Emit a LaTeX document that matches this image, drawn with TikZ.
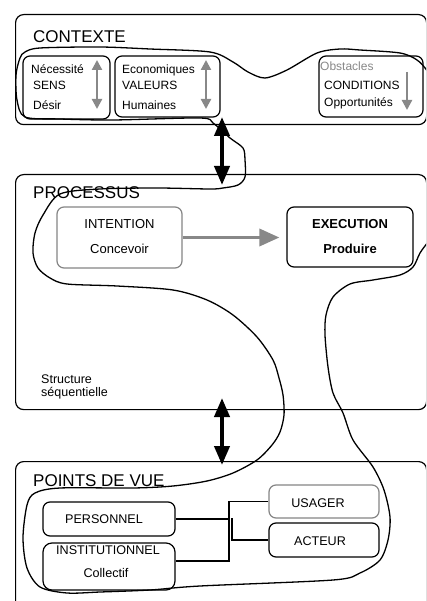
\documentclass[tikz,border=0pt]{standalone}
\usepackage{fontspec}
\setmainfont{Liberation Sans}
\usetikzlibrary{arrows.meta}
\definecolor{arrgray}{HTML}{888888}
\definecolor{boxgray}{HTML}{858585}
\tikzset{
  frame/.style={draw, line width=1.2pt, rounded corners=8pt, inner sep=0pt, anchor=north west, minimum width=411pt},
  ibox/.style={draw, line width=1.2pt, rounded corners=7pt, inner sep=0pt},
  gbox/.style={ibox, draw=boxgray},
  ttl/.style={inner sep=0pt, anchor=base west, font=\fontsize{17}{17}\selectfont},
  sm/.style={inner sep=0pt, anchor=base west, font=\fontsize{12}{12}\selectfont},
  md/.style={inner sep=0pt, anchor=base, font=\fontsize{12.6}{12.6}\selectfont},
  pr/.style={inner sep=0pt, anchor=base, font=\fontsize{13}{13}\selectfont},
  bigarrow/.style={line width=4pt, {Triangle[width=15pt,length=19pt]}-{Triangle[width=15pt,length=19pt]}},
  grayarrow/.style={draw=arrgray, line width=3.5pt, -{Triangle[width=17pt,length=20pt]}, arrgray},
  smallarrow/.style={draw=arrgray, line width=2.2pt, arrgray},
  conn/.style={line width=1.2pt},
  loopline/.style={line width=1.3pt, line join=round}
}
\begin{document}
\begin{tikzpicture}[x=1pt,y=-1pt]
\useasboundingbox (0,0) rectangle (426,601);
\clip (0,0) rectangle (426,601);
\fill[white] (0,0) rectangle (426,601);

% frames
\node[frame, minimum height=110pt] (ctx) at (15,14) {};
\node[frame, minimum height=235pt] (proc) at (15,174) {};
\node[frame, minimum height=154pt] (pdv) at (15,461) {};

\node[ttl] (tctx) at (33,43) {CONTEXTE};
\node[ttl] (tproc) at (33,199) {PROCESSUS};
\node[ttl] (tpdv) at (33,486) {POINTS DE VUE};

% context boxes
\node[ibox, minimum width=87pt, minimum height=63pt] (boxA) at (66.5,87.5) {};
\node[ibox, minimum width=105pt, minimum height=61pt] (boxB) at (167.5,86.5) {};
\node[ibox, minimum width=104pt, minimum height=61pt] (boxC) at (371,86.5) {};

\node[sm] (nec) at (31,74) {Nécessité};
\node[sm] (sens) at (33,90) {SENS};
\node[sm] (des) at (33,110) {Désir};
\node[sm] (eco) at (122,74) {Economiques};
\node[sm] (val) at (122,90) {VALEURS};
\node[sm] (hum) at (122,110) {Humaines};
\node[sm, text=arrgray] (obs) at (320,71) {Obstacles};
\node[sm] (cond) at (324,90) {CONDITIONS};
\node[sm] (opp) at (324,107) {Opportunités};

\coordinate (gA1) at (97,60);  \coordinate (gA2) at (97,109);
\coordinate (gB1) at (206,60); \coordinate (gB2) at (206,109);
\coordinate (gC1) at (407,72); \coordinate (gC2) at (407,110);
\draw[smallarrow, {Triangle[width=10pt,length=10pt]}-{Triangle[width=10pt,length=10pt]}] (gA1) -- (gA2);
\draw[smallarrow, {Triangle[width=10pt,length=10pt]}-{Triangle[width=10pt,length=10pt]}] (gB1) -- (gB2);
\draw[smallarrow, -{Triangle[width=10pt,length=10pt]}] (gC1) -- (gC2);

% processus
\node[gbox, minimum width=125pt, minimum height=61pt] (int) at (119.5,237.5) {};
\node[ibox, minimum width=126pt, minimum height=60pt] (exe) at (350,237) {};
\node[pr] (tint) at (119.5,229) {INTENTION};
\node[pr] (tconc) at (119.5,254) {Concevoir};
\node[pr, font=\fontsize{13}{13}\selectfont\bfseries] (texe) at (350,229) {EXECUTION};
\node[pr, font=\fontsize{13}{13}\selectfont\bfseries] (tprod) at (350,254) {Produire};
\draw[grayarrow, shorten >=7pt] (int.east) -- (int.east -| exe.west);

\node[sm, font=\fontsize{12.5}{12.5}\selectfont] (str) at (41,383) {Structure};
\node[sm, font=\fontsize{12.5}{12.5}\selectfont] (seq) at (41,396) {séquentielle};

% big arrows
\coordinate (a1s) at (222,117); \coordinate (a1e) at (222,185);
\coordinate (a2s) at (222,398); \coordinate (a2e) at (222,465);
\draw[bigarrow] (a1s) -- (a1e);
\draw[bigarrow] (a2s) -- (a2e);

% points de vue
\node[ibox, minimum width=132pt, minimum height=34pt] (pers) at (109,519) {};
\node[ibox, minimum width=132pt, minimum height=47pt, rounded corners=9pt] (inst) at (109,566.5) {};
\node[gbox, minimum width=110pt, minimum height=33pt] (usa) at (324,501.5) {};
\node[ibox, minimum width=110pt, minimum height=34pt] (act) at (324,540) {};
\node[md] (tpers) at (104,523) {PERSONNEL};
\node[md] (tinst) at (108,554) {INSTITUTIONNEL};
\node[md] (tcoll) at (106,577) {Collectif};
\node[md] (tusa) at (318,507) {USAGER};
\node[md] (tact) at (320,545) {ACTEUR};

\coordinate (jt) at (229,501.5);
\coordinate (jb) at (229,561);
\coordinate (ja) at (232,518);
\draw[conn] (usa.west) -- (jt) -- (jb) -- (inst.east |- jb);
\draw[conn] (pers.east) -- (pers.east -| jt);
\draw[conn] (ja) -- (ja |- act.west) -- (act.west);

% freehand loop
\draw[loopline] plot[smooth cycle, tension=0.5] coordinates {
(25,52) (40,48) (100,47) (150,49) (210,52) (233,62) (248,72) (265,78) (287,70)
(317,53) (340,49) (360,50) (400,53) (417,60) (428,72) (445,100) (445,220)
(428,242) (420,253) (413,267) (400,275) (373,280) (350,284) (333,297) (326,315)
(325,335) (328,367) (333,393) (343,413) (353,440) (373,467) (384,490) (390,517)
(388,540) (380,560) (360,573) (333,580) (200,586) (150,590) (100,592) (67,593)
(40,587) (27,568) (23,538) (27,505) (35,493) (60,488) (133,488) (173,486)
(207,481) (233,473) (257,460) (272,445) (280,432) (284,415) (283,395) (279,378)
(273,360) (257,337) (233,315) (207,300) (173,290) (117,286) (67,284) (50,278)
(38,268) (33,253) (35,233) (43,215) (60,194) (100,189) (157,188) (210,189)
(223,188) (238,185) (245,177) (245,160) (243,148) (230,138) (213,123) (200,118)
(113,120) (60,119) (25,117) (17,100) (16,75) (20,58)
};
\end{tikzpicture}
\end{document}
